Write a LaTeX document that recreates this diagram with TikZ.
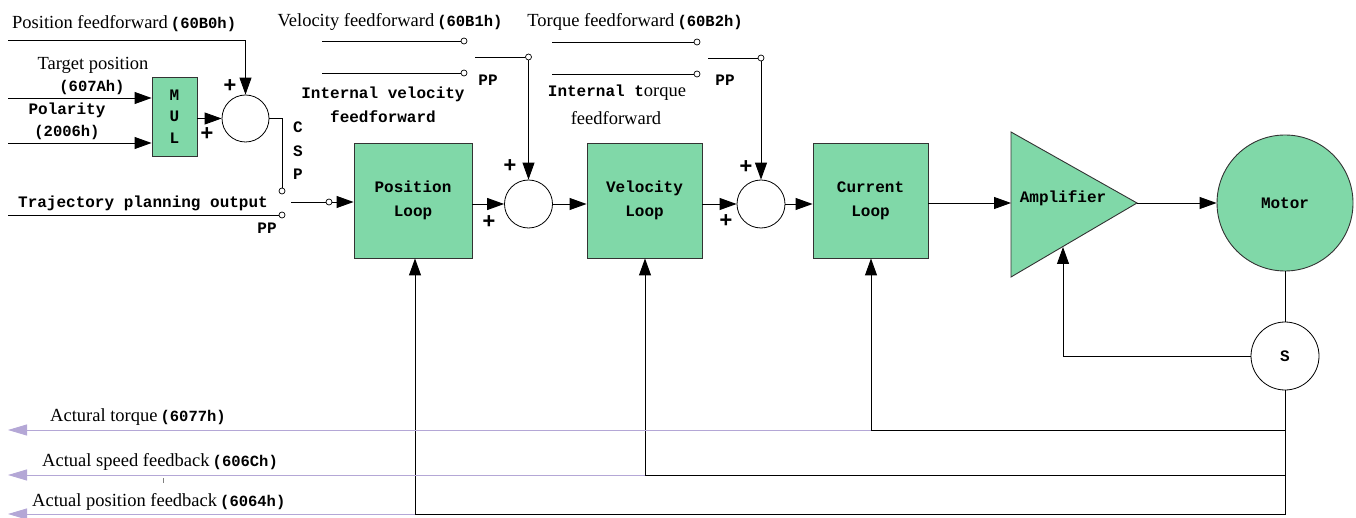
\documentclass[tikz,border=0pt]{standalone}
\usepackage{fontspec}
\setmainfont{Liberation Serif}
\setmonofont{Liberation Mono}
\usetikzlibrary{arrows.meta,positioning}
\definecolor{loopgreen}{RGB}{128,216,168}
\definecolor{fbpurple}{RGB}{180,167,214}
\newcommand\mono{\ttfamily\bfseries\fontsize{16}{24}\selectfont}
\newcommand\serif{\rmfamily\mdseries\fontsize{18.5}{24}\selectfont}
\newcommand\code[1]{{\ttfamily\bfseries\fontsize{15.5}{18}\selectfont #1}}
\tikzset{
  blk/.style={draw=black!80, fill=loopgreen, line width=0.9pt, inner sep=0pt, font=\mono, align=center},
  sumnode/.style={circle, draw, fill=white, line width=0.8pt, minimum size=48pt, inner sep=0pt},
  contact/.style={circle, draw, fill=white, line width=0.7pt, minimum size=6pt, inner sep=0pt},
  sig/.style={line width=0.9pt, -{Triangle[length=17pt,width=12pt]}},
  wire/.style={line width=0.9pt},
  fb/.style={draw=fbpurple, line width=0.9pt, -{Triangle[length=19pt,width=11pt]}},
  lbl/.style={font=\serif, inner sep=0pt},
  mlbl/.style={font=\mono, inner sep=0pt, align=center},
  plus/.style={font=\ttfamily\bfseries\fontsize{22}{22}\selectfont, inner sep=0pt},
}
\begin{document}
\begin{tikzpicture}[x=1pt, y=-1pt]
  \useasboundingbox (0,0) rectangle (1356,518);

  % 方框
  \node[blk, minimum width=45pt, minimum height=79pt, font=\ttfamily\bfseries\fontsize{16}{21.5}\selectfont] (mul) at (174.5,116.5) {M\\U\\L};
  \node[blk, minimum width=118pt, minimum height=115pt] (pos) at (413,200.5) {Position\\Loop};
  \node[blk, minimum width=115pt, minimum height=115pt] (vel) at (644.5,200.5) {Velocity\\Loop};
  \node[blk, minimum width=115pt, minimum height=115pt] (cur) at (870.5,200.5) {Current\\Loop};

  % 求和点
  \node[sumnode, minimum size=47pt] (sum1) at (245.5,118.5) {};
  \node[sumnode] (sum2) at (528.5,204) {};
  \node[sumnode] (sum3) at (761,204) {};

  % 放大器、电机、编码器
  \coordinate (amptop) at (1011,132);
  \coordinate (ampbot) at (1011,277);
  \coordinate (ampapex) at (1137,203);
  \coordinate (ampin) at (1011,203);
  \coordinate (ampfb) at (1063,247);
  \draw[fill=loopgreen, draw=black!80, line width=0.9pt] (amptop) -- (ampapex) -- (ampbot) -- cycle;
  \node[mlbl] (amptxt) at (1063,198) {Amplifier};
  \node[circle, draw=black!80, fill=loopgreen, line width=0.9pt, minimum size=136pt, inner sep=0pt, font=\mono] (motor) at (1285,203) {Motor};
  \node[circle, draw, fill=white, line width=0.8pt, minimum size=68pt, inner sep=0pt, font=\mono] (enc) at (1285,356) {S};

  % 开关触点
  \node[contact] (csp) at (282,191) {};
  \node[contact] (ppc) at (282,215) {};
  \node[contact] (sw) at (329,202) {};
  \node[contact] (vff1) at (464,41) {};
  \node[contact] (vff2) at (464,73) {};
  \node[contact] (vpv) at (528.5,57) {};
  \node[contact] (tff1) at (697,42) {};
  \node[contact] (tff2) at (697,74) {};
  \node[contact] (tpv) at (761,58) {};

  % 输入端
  \coordinate (pff) at (8,40);
  \coordinate (tgt) at (8,98);
  \coordinate (pol) at (8,143);
  \coordinate (trj) at (8,215);
  \coordinate (arm) at (291,202);
  \coordinate (vffa) at (322,41);
  \coordinate (vffb) at (322,73);
  \coordinate (varm) at (475,57);
  \coordinate (tffa) at (552,42);
  \coordinate (tffb) at (552,74);
  \coordinate (tarm) at (708,58);

  % 前向通道
  \draw[sig] (pff) -| (sum1.north);
  \draw[sig] (tgt) -- (tgt -| mul.west);
  \draw[sig] (pol) -- (pol -| mul.west);
  \draw[sig] (mul.east |- sum1) -- (sum1.west);
  \draw[wire] (sum1.east) -| (csp);
  \draw[wire] (trj) -- (ppc);
  \draw[wire] (arm) -- (sw);
  \draw[sig] (sw) -- (sw -| pos.west);
  \draw[sig] (pos.east |- sum2) -- (sum2.west);
  \draw[sig] (sum2.east) -- (sum2 -| vel.west);
  \draw[sig] (vel.east |- sum3) -- (sum3.west);
  \draw[sig] (sum3.east) -- (sum3 -| cur.west);
  \draw[sig] (cur.east |- ampin) -- (ampin);
  \draw[sig] (ampapex) -- (motor.west);
  \draw[wire] (motor.south) -- (enc.north);
  \draw[sig] (enc.west) -| (ampfb);

  % 前馈
  \draw[wire] (vffa) -- (vff1);
  \draw[wire] (vffb) -- (vff2);
  \draw[wire] (varm) -- (vpv);
  \draw[sig] (vpv) -- (sum2.north);
  \draw[wire] (tffa) -- (tff1);
  \draw[wire] (tffb) -- (tff2);
  \draw[wire] (tarm) -- (tpv);
  \draw[sig] (tpv) -- (sum3.north);

  % 反馈
  \coordinate (fbpos) at (415,514);
  \coordinate (fbspd) at (645,475);
  \coordinate (fbtrq) at (871,430);
  \draw[wire] (enc.south) |- (fbpos);
  \draw[wire] (enc.south |- fbspd) -- (fbspd);
  \draw[wire] (enc.south |- fbtrq) -- (fbtrq);
  \draw[sig] (fbpos) -- (fbpos |- pos.south);
  \draw[sig] (fbspd) -- (fbspd |- vel.south);
  \draw[sig] (fbtrq) -- (fbtrq |- cur.south);
  \draw[fb] (fbtrq) -- (8,430);
  \draw[fb] (fbspd) -- (8,475);
  \draw[fb] (fbpos) -- (8,514);
  \draw[black!50, line width=0.6pt] (163,478) -- (163,483);

  % 文字
  \node[lbl, anchor=west] (pfftxt) at (12,24) {Position feedforward\,\code{(60B0h)}};
  \node[lbl] (tgttxt) at (93,65) {Target position};
  \node[mlbl] (tgtcode) at (92,87) {\code{(607Ah)}};
  \node[mlbl] (poltxt) at (67,110) {Polarity};
  \node[mlbl] (polcode) at (67,132) {\code{(2006h)}};
  \node[plus] at (230,86) {+};
  \node[plus] at (207,134) {+};
  \node[mlbl, font=\ttfamily\bfseries\fontsize{16}{23.5}\selectfont] (csptxt) at (298,151) {C\\S\\P};
  \node[mlbl] (trjtxt) at (143,203) {Trajectory planning output};
  \node[mlbl] (pp1) at (267,228) {PP};
  \node[lbl] (vfftxt) at (390,22) {Velocity feedforward\,\code{(60B1h)}};
  \node[mlbl] (pp2) at (488,80) {PP};
  \node[mlbl] (ivtxt) at (383,105) {Internal velocity\\feedforward};
  \node[plus] at (510,166) {+};
  \node[plus] at (489,222) {+};
  \node[lbl] (tfftxt) at (635,22) {Torque feedforward\,\code{(60B2h)}};
  \node[mlbl] (pp3) at (725,80) {PP};
  \node[mlbl] (ittxt) at (617,93) {Internal t{\serif orque}};
  \node[lbl] (ittxt2) at (616,118) {feedforward};
  \node[plus] at (746,167) {+};
  \node[plus] at (726,221) {+};
  \node[lbl, anchor=west] (trqtxt) at (50,417) {Actural torque\,\code{(6077h)}};
  \node[lbl, anchor=west] (spdtxt) at (42,462) {Actual speed feedback\,\code{(606Ch)}};
  \node[lbl, anchor=west] (postxt) at (32,502) {Actual position feedback\,\code{(6064h)}};
\end{tikzpicture}
\end{document}
